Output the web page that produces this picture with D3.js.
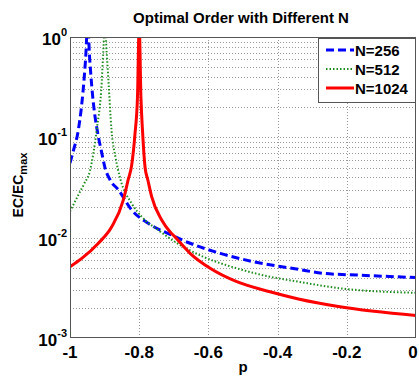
<!DOCTYPE html>
<html>
<head>
<meta charset="utf-8">
<script src="https://cdn.jsdelivr.net/npm/d3@7"></script>
<style>
  body { margin: 0; background: #fff; }
  svg { display: block; font-family: Arial, "Liberation Sans", sans-serif; }
</style>
</head>
<body>
<svg id="chart" width="419" height="377"></svg>
<script>
// values
const p256 = [-1, -0.99, -0.976, -0.962, -0.955, -0.949, -0.943, -0.937, -0.918, -0.91, -0.899, -0.884, -0.86, -0.822, -0.774, -0.706, -0.653, -0.566, -0.47, -0.34, -0.268, -0.171, 0];
const ec256 = [0.0555, 0.074, 0.118, 0.296, 0.6, 1.3, 0.6, 0.32, 0.101, 0.075, 0.05, 0.0376, 0.0299, 0.0189, 0.0139, 0.0106, 0.0088, 0.00698, 0.00576, 0.00484, 0.00441, 0.00424, 0.0040];

const p512 = [-1, -0.976, -0.96, -0.942, -0.923, -0.908, -0.904, -0.899, -0.894, -0.889, -0.88, -0.868, -0.855, -0.822, -0.793, -0.745, -0.697, -0.615, -0.518, -0.422, -0.34, -0.22, 0];
const ec512 = [0.0182, 0.0266, 0.034, 0.047, 0.118, 0.37, 0.7, 1.3, 0.7, 0.37, 0.118, 0.062, 0.039, 0.022, 0.0162, 0.0119, 0.0091, 0.00646, 0.00495, 0.00408, 0.00364, 0.00313, 0.00282];

const p1024 = [-1, -0.966, -0.918, -0.879, -0.846, -0.832, -0.822, -0.812, -0.805, -0.8, -0.795, -0.79, -0.783, -0.775, -0.764, -0.735, -0.711, -0.697, -0.653, -0.595, -0.518, -0.422, -0.34, -0.22, 0];
const ec1024 = [0.00514, 0.00622, 0.0088, 0.0129, 0.0237, 0.0376, 0.052, 0.11, 0.25, 1.3, 0.25, 0.11, 0.05, 0.0376, 0.0256, 0.015, 0.01146, 0.0102, 0.00698, 0.00495, 0.00364, 0.00289, 0.00245, 0.00205, 0.00168];

const xTicks = [-1, -0.8, -0.6, -0.4, -0.2, 0];
const xTickLabels = ['-1', '-0.8', '-0.6', '-0.4', '-0.2', '0'];
const yTicks = [1, 0.1, 0.01, 0.001];
const yTickExp = ['0', '-1', '-2', '-3'];
const seriesNames = ['N=256', 'N=512', 'N=1024'];

const width = 419;
const height = 377;
const margin = { top: 37, right: 3, bottom: 39, left: 70 };

const svg = d3.select('#chart');
const x = d3.scaleLinear().domain([-1, 0]).range([margin.left, width - margin.right]);
const y = d3.scaleLog().domain([0.001, 1]).range([height - margin.bottom, margin.top]);

const series = [
  { name: seriesNames[0], p: p256, v: ec256, color: '#0000ff', width: 3, dash: '8,4' },
  { name: seriesNames[1], p: p512, v: ec512, color: '#1e8c1e', width: 2, dash: '1.5,2' },
  { name: seriesNames[2], p: p1024, v: ec1024, color: '#ff0000', width: 3, dash: null }
];

// grid
const grid = svg.append('g')
  .attr('stroke', '#9a9a9a')
  .attr('stroke-width', 1)
  .attr('stroke-dasharray', '1,2');

const minor = [];
for (let e = -3; e < 0; e++) {
  for (let m = 1; m <= 9; m++) {
    const v = m * Math.pow(10, e);
    if (v > 0.001) minor.push(v);
  }
}
grid.selectAll('line.h')
  .data(minor)
  .enter()
  .append('line')
  .attr('x1', margin.left)
  .attr('x2', width - margin.right)
  .attr('y1', d => Math.round(y(d)) + 0.5)
  .attr('y2', d => Math.round(y(d)) + 0.5);

grid.selectAll('line.v')
  .data(xTicks.slice(1, -1))
  .enter()
  .append('line')
  .attr('x1', d => Math.round(x(d)) + 0.5)
  .attr('x2', d => Math.round(x(d)) + 0.5)
  .attr('y1', margin.top)
  .attr('y2', height - margin.bottom);

// curves
svg.append('clipPath')
  .attr('id', 'plotclip')
  .append('rect')
  .attr('x', margin.left)
  .attr('y', margin.top)
  .attr('width', width - margin.left - margin.right)
  .attr('height', height - margin.top - margin.bottom);

const line = d3.line()
  .x(d => x(d[0]))
  .y(d => y(d[1]))
  .curve(d3.curveMonotoneX);

svg.append('g')
  .attr('clip-path', 'url(#plotclip)')
  .selectAll('path')
  .data(series)
  .enter()
  .append('path')
  .attr('d', s => line(d3.zip(s.p, s.v)))
  .attr('fill', 'none')
  .attr('stroke', s => s.color)
  .attr('stroke-width', s => s.width)
  .attr('stroke-dasharray', s => s.dash);

// frame
svg.append('rect')
  .attr('x', margin.left + 0.5)
  .attr('y', margin.top + 0.5)
  .attr('width', width - margin.left - margin.right - 1)
  .attr('height', height - margin.top - margin.bottom - 1)
  .attr('fill', 'none')
  .attr('stroke', '#555')
  .attr('stroke-width', 1);

// x tick labels
svg.append('g')
  .selectAll('text')
  .data(xTicks)
  .enter()
  .append('text')
  .attr('x', (d, i) => x(d) - (i === xTicks.length - 1 ? 3 : 0))
  .attr('y', 358)
  .attr('text-anchor', 'middle')
  .style('font-size', '17px')
  .style('font-weight', 'bold')
  .text((d, i) => xTickLabels[i]);

// y tick labels: 10 with superscript exponent
const yl = svg.append('g')
  .selectAll('text')
  .data(yTicks)
  .enter()
  .append('text')
  .attr('x', 67)
  .attr('y', d => y(d) + 8)
  .attr('text-anchor', 'end')
  .style('font-size', '17px')
  .style('font-weight', 'bold');
yl.append('tspan').text('10');
yl.append('tspan')
  .attr('dy', -9)
  .style('font-size', '11px')
  .text((d, i) => yTickExp[i]);

// title and axis labels
svg.append('text')
  .attr('x', 241)
  .attr('y', 23)
  .attr('text-anchor', 'middle')
  .style('font-size', '15px')
  .style('font-weight', 'bold')
  .text('Optimal Order with Different N');

svg.append('text')
  .attr('x', 243)
  .attr('y', 372)
  .attr('text-anchor', 'middle')
  .style('font-size', '15px')
  .style('font-weight', 'bold')
  .text('p');

const ylab = svg.append('text')
  .attr('transform', 'translate(23,185) rotate(-90)')
  .attr('text-anchor', 'middle')
  .style('font-size', '14px')
  .style('font-weight', 'bold');
ylab.append('tspan').text('EC/EC');
ylab.append('tspan').attr('dy', 4).style('font-size', '11px').text('max');

// legend
const legend = svg.append('g').attr('transform', 'translate(318,38)');
legend.append('rect')
  .attr('x', 0.5)
  .attr('y', 0.5)
  .attr('width', 97)
  .attr('height', 64)
  .attr('fill', '#fff')
  .attr('stroke', '#555');

const item = legend.selectAll('g.item')
  .data(series)
  .enter()
  .append('g')
  .attr('transform', (d, i) => 'translate(0,' + (12 + i * 19) + ')');
item.append('line')
  .attr('x1', 8)
  .attr('x2', 36)
  .attr('y1', 0)
  .attr('y2', 0)
  .attr('stroke', s => s.color)
  .attr('stroke-width', s => s.width)
  .attr('stroke-dasharray', s => s.dash);
item.append('text')
  .attr('x', 37)
  .attr('y', 5.5)
  .style('font-size', '15px')
  .style('font-weight', 'bold')
  .text(s => s.name);
</script>
</body>
</html>
